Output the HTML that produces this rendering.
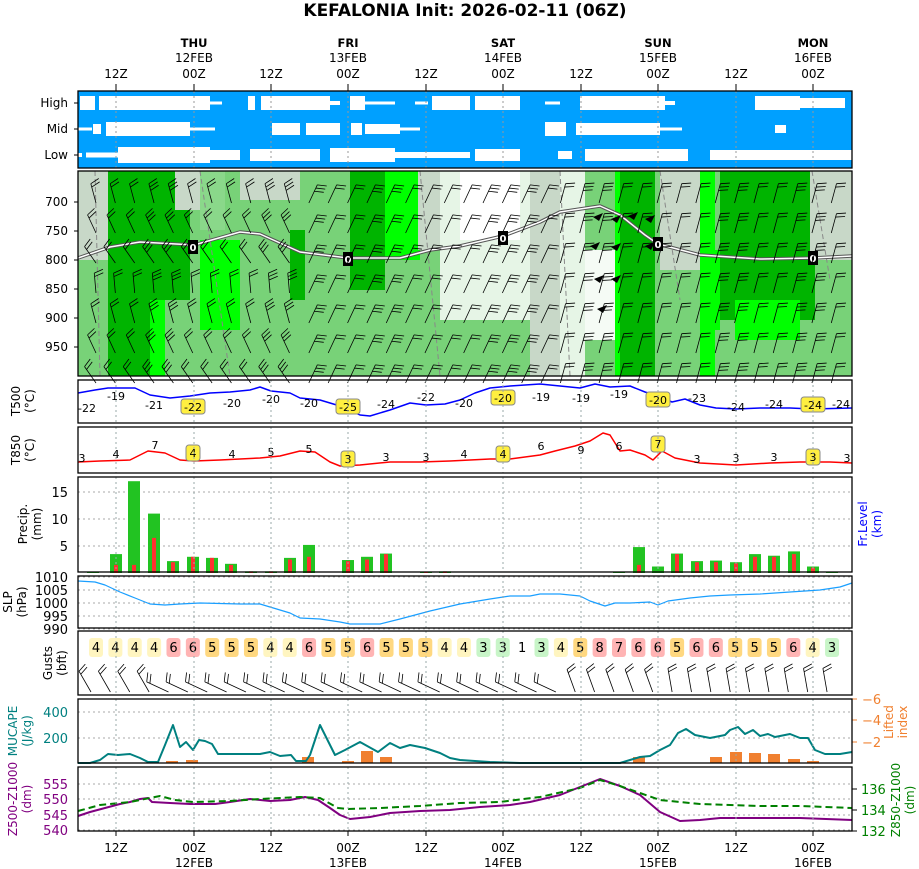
<!DOCTYPE html>
<html><head><meta charset="utf-8"><style>
html,body{margin:0;padding:0;background:#fff;}
svg{display:block;font-family:"DejaVu Sans","Liberation Sans",sans-serif;}
</style></head><body>
<svg id="s" width="919" height="869" xmlns="http://www.w3.org/2000/svg">
<text x="465" y="16" text-anchor="middle" font-size="17" font-weight="bold">KEFALONIA Init: 2026-02-11 (06Z)</text>
</svg>
<script>
const S=document.getElementById('s');const NS='http://www.w3.org/2000/svg';
function el(t,a,txt){const e=document.createElementNS(NS,t);for(const k in a)e.setAttribute(k,a[k]);if(txt!==undefined)e.textContent=txt;S.appendChild(e);return e;}
function rect(x,y,w,h,f,extra){return el('rect',Object.assign({x,y,width:w,height:h,fill:f},extra||{}));}
function line(p,c,w,d){return el('polyline',{points:p.map(a=>a.join(',')).join(' '),fill:'none',stroke:c,'stroke-width':w,'stroke-dasharray':d||'','stroke-linejoin':'round'});}
function text(x,y,t,o){return el('text',Object.assign({x,y,'font-size':11,'text-anchor':'middle'},o||{}),t);}
const X0=78,X1=852,W=X1-X0;
const ticks=[116,194,271,348,426,503,581,658,736,813];
const hrs=['12Z','00Z','12Z','00Z','12Z','00Z','12Z','00Z','12Z','00Z'];
const days=[[194,'THU','12FEB'],[348,'FRI','13FEB'],[503,'SAT','14FEB'],[658,'SUN','15FEB'],[813,'MON','16FEB']];
days.forEach(d=>{text(d[0],47,d[1],{'font-weight':'bold','font-size':11.5});text(d[0],62,d[2],{'font-size':12});});
ticks.forEach((x,i)=>{text(x,78,hrs[i],{'font-size':12});el('line',{x1:x,y1:84,x2:x,y2:91,stroke:'#000'});});
const P={cl:[91,168],cs:[171,376],t5:[380,423],t8:[427,473],pr:[477,572],slp:[576,628],gu:[631,695],ca:[699,763],z:[767,831]};
rect(X0,91,W,77,'#00a0ff');
const rows={h:103,m:129,l:155};
const cl={h:[[80,95,7],[99,210,7],[210,222,1.5],[248,255,7],[261,330,7],[330,340,2],[350,365,7],[365,395,1.5],[415,428,1.5],[432,470,7],[475,520,7],[545,560,1.5],[580,665,7],[665,675,2],[755,800,7],[800,845,5]],
m:[[78,92,1.5],[93,101,5],[106,190,7],[190,215,1.5],[272,300,6],[306,340,6],[351,362,6],[365,400,5],[400,420,1.5],[545,566,7],[576,660,6],[660,682,1.5],[775,786,4]],
l:[[78,82,2],[86,118,2.5],[118,210,8],[210,240,5],[250,320,6],[330,395,7],[395,440,3],[440,470,3],[475,520,6],[558,572,4],[585,688,6],[710,852,5]]};
for(const r in cl)cl[r].forEach(s=>rect(s[0],rows[r]-s[2],s[1]-s[0],2*s[2],'#fff'));
ticks.forEach(x=>el('line',{x1:x,y1:91,x2:x,y2:168,stroke:'#999','stroke-dasharray':'2,3'}));
[['High',103],['Mid',129],['Low',155]].forEach(a=>{text(68,a[1]+4,a[0],{'text-anchor':'end','font-size':12});el('line',{x1:74,y1:a[1],x2:78,y2:a[1],stroke:'#000'});});
rect(X0,171,W,205,'#78d278');
const G='#c8d8c8',L='#e6f5e6',D='#00b400',B='#00ff00';
const blobs=[[78,110,171,260,G],[140,165,171,376,B],[108,150,171,376,D],[150,190,171,300,D],[200,240,240,330,B],[175,200,171,210,G],[240,300,171,200,G],[290,305,230,300,D],[350,385,171,290,D],[385,420,171,260,B],[418,440,171,250,G],[440,530,171,320,L],[460,520,171,240,'#ffffff'],[530,560,171,376,G],[560,585,171,376,L],[585,615,250,340,'#f5fbf5'],[615,630,171,376,B],[620,655,171,376,D],[660,700,171,270,G],[700,715,171,376,B],[720,815,171,320,D],[715,720,250,330,B],[735,800,300,340,B],[810,852,171,260,G],[200,225,171,230,'#8ad88a']];
blobs.forEach(b=>rect(b[0],b[2],b[1]-b[0],b[3]-b[2],b[4]));
[[95,171,100,376],[200,171,230,376],[420,171,440,376],[560,171,570,376],[660,171,680,300],[812,171,830,280]].forEach(a=>el('line',{x1:a[0],y1:a[1],x2:a[2],y2:a[3],stroke:'#888','stroke-dasharray':'5,3'}));
const fl=[[78,258],[110,247],[140,242],[194,245],[240,232],[260,234],[300,252],[348,258],[400,258],[430,250],[460,246],[503,236],[540,222],[560,212],[600,206],[620,215],[645,235],[658,244],[700,255],[760,259],[813,258],[852,256]];
line(fl,'#555',3.5);line(fl,'#fff',1.5);
[[193,247],[348,259],[503,238],[658,244],[813,258]].forEach(p=>{rect(p[0]-5,p[1]-7,10,14,'#000');text(p[0],p[1]+4,'0',{fill:'#fff','font-size':10,'font-weight':'bold'});});
function barb(x,y,ang,n,len){len=len||22;const r=ang*Math.PI/180;const dx=Math.sin(r),dy=-Math.cos(r);const x2=x+dx*len,y2=y+dy*len;let d=`M${x},${y}L${x2},${y2}`;
for(let i=0;i<n;i++){const bx=x2-dx*i*3.5,by=y2-dy*i*3.5;const px=-dy,py=dx;d+=`M${bx},${by}l${(px*9+dx*3).toFixed(1)},${(py*9+dy*3).toFixed(1)}`;}
el('path',{d,stroke:'#000','stroke-width':0.8,fill:'none'});}
for(let x=96;x<850;x+=19.35){for(let y=185;y<370;y+=30){const k=Math.floor(x*7+y*3)%5;barb(x,y+18,x<300?(320+(y%40)):(x<560?20+(y%30):15),2+k%2,20);}}
[[593,217],[611,219],[628,216],[645,219],[590,246],[611,247],[645,246],[594,279],[611,279],[597,309]].forEach(p=>el('path',{d:`M${p[0]},${p[1]}l10,-4l-4,8z`,fill:'#000'}));
[[700,202],[750,231],[800,260],[850,289],[900,318],[950,347]].forEach(a=>{text(68,a[1]+4,a[0],{'text-anchor':'end','font-size':12});el('line',{x1:74,y1:a[1],x2:78,y2:a[1],stroke:'#000'});});
line([[78,393],[95,390],[108,388],[135,388],[150,395],[170,398],[190,396],[210,393],[230,392],[250,390],[260,387],[271,391],[290,393],[300,398],[320,400],[340,406],[360,415],[370,416],[390,410],[410,403],[426,405],[445,404],[460,400],[475,393],[490,388],[510,386],[540,384],[560,386],[580,388],[595,384],[610,387],[630,386],[645,392],[658,396],[672,402],[685,399],[700,405],[716,408],[736,409],[760,408],[790,408],[812,409],[852,408]],'#0000ff',1.5);
const t5=[[87,408,'-22'],[116,396,'-19'],[154,405,'-21'],[193,407,'-22',1],[232,403,'-20'],[271,399,'-20'],[309,403,'-20'],[348,407,'-25',1],[386,404,'-24'],[426,397,'-22'],[464,403,'-20'],[503,398,'-20',1],[541,397,'-19'],[581,398,'-19'],[619,394,'-19'],[658,400,'-20',1],[697,398,'-23'],[736,407,'-24'],[774,404,'-24'],[813,405,'-24',1],[841,404,'-24']];
function lab(a){if(a[3])rect(a[0]-12,a[1]-8,24,15,'#ffef40',{rx:3,stroke:'#888'});text(a[0],a[1]+4,a[2]);}
t5.forEach(lab);
line([[78,462],[100,461],[130,460],[148,451],[165,453],[180,460],[194,461],[220,460],[260,458],[280,456],[300,451],[315,452],[330,462],[340,466],[360,465],[390,462],[420,462],[450,461],[490,459],[510,459],[540,455],[555,451],[575,446],[590,441],[603,433],[610,435],[620,451],[630,450],[645,455],[653,460],[662,451],[675,458],[700,463],[736,465],[770,463],[800,462],[830,462],[852,463]],'#ff0000',1.5);
[[82,458,'3'],[116,454,'4'],[155,445,'7'],[193,453,'4',1],[232,454,'4'],[271,452,'5'],[309,449,'5'],[348,459,'3',1],[386,457,'3'],[426,457,'3'],[464,454,'4'],[503,454,'4',1],[541,446,'6'],[581,450,'9'],[619,446,'6'],[658,444,'7',1],[697,459,'3'],[736,458,'3'],[774,457,'3'],[813,457,'3',1],[847,458,'3']].forEach(a=>{if(a[3]){rect(a[0]-7,a[1]-8,14,16,'#ffef40',{rx:3,stroke:'#888'});}text(a[0],a[1]+4,a[2]);});
[5,10,15].forEach(v=>{const y=573-v*5.4;el('line',{x1:X0,y1:y,x2:X1,y2:y,stroke:'#aaa','stroke-dasharray':'2,3'});text(68,y+5,v,{'text-anchor':'end','font-size':13});});
const pr=[[93,.2,0],[116,3.5,1.5],[134,17,1.5],[154,11,6.5],[173,2.2,2],[193,3,3],[212,2.8,2.8],[231,1.7,1.5],[251,.3,.3],[271,.3,.3],[290,2.8,2.5],[309,5.2,3],[348,2.4,2.2],[367,3,2.5],[386,3.6,3.5],[426,.1,.1],[445,.3,.3],[619,.1,0],[639,4.8,1.5],[658,1.2,0],[677,3.6,3.5],[697,2.2,2],[716,2.3,2],[736,2,1.8],[755,3.5,3],[774,3.2,3],[794,4,3.5],[813,1.2,1],[832,.1,0]];
pr.forEach(p=>{rect(p[0]-6,573-p[1]*5.4,12,p[1]*5.4,'#22c322');if(p[2])rect(p[0]-2,573-p[2]*5.4,4,p[2]*5.4,'#ff3030');});
[[1010,577],[1005,590],[1000,603],[995,616],[990,629]].forEach(a=>{el('line',{x1:X0,y1:a[1],x2:X1,y2:a[1],stroke:'#aaa','stroke-dasharray':'2,3'});text(68,a[1]+5,a[0],{'text-anchor':'end','font-size':13});});
line([[78,581],[95,582],[105,585],[120,592],[135,598],[150,604],[165,605],[180,604],[200,603],[240,604],[260,604],[270,607],[290,613],[300,618],[320,619],[340,622],[350,624],[380,624],[400,619],[430,611],[460,604],[490,599],[510,596],[530,596],[540,594],[560,594],[580,596],[590,601],[605,606],[615,603],[630,603],[650,602],[658,605],[668,601],[690,598],[710,596],[730,595],[760,594],[790,592],[820,590],[840,587],[852,583]],'#1a9fff',1.2);
const gv=[4,4,4,4,6,6,5,5,5,4,4,6,5,5,6,5,5,5,4,4,3,3,1,3,4,5,8,7,6,6,5,6,6,5,5,5,6,4,3];
const gc={3:'#c8f5c8',4:'#fff5c0',5:'#ffd880',6:'#ffb4b4',7:'#ffb4b4',8:'#ffb4b4'};
gv.forEach((v,i)=>{const x=96+i*19.37;if(gc[v])rect(x-7,638,14,19,gc[v],{rx:3});text(x,652,v,{'font-size':13});barb(x-5,692,i<4?330:(i<25?295:(i<30?340:350)),2,24);});
[[400,712],[200,738]].forEach(a=>{el('line',{x1:X0,y1:a[1],x2:X1,y2:a[1],stroke:'#aaa','stroke-dasharray':'2,3'});text(68,a[1]+5,a[0],{'text-anchor':'end','font-size':13,fill:'#008080'});});
[[172,2],[192,3],[308,6],[348,2],[367,12],[386,6],[639,6],[716,6],[736,11],[755,10],[774,9],[794,4],[813,2]].forEach(b=>rect(b[0]-6,763-b[1],12,b[1],'#f08030'));
line([[78,763],[90,763],[100,760],[108,754],[118,755],[130,754],[140,758],[148,762],[158,762],[165,745],[173,725],[180,747],[186,742],[193,750],[199,740],[205,741],[212,744],[218,754],[240,754],[260,754],[270,752],[280,756],[291,755],[296,761],[306,761],[310,755],[315,740],[320,725],[328,741],[335,755],[345,750],[360,742],[378,752],[390,743],[400,748],[410,745],[425,748],[440,753],[450,758],[460,760],[490,762],[520,763],[550,763],[620,763],[630,760],[640,757],[650,756],[660,750],[670,745],[678,733],[686,729],[695,735],[710,738],[725,735],[730,730],[738,727],[745,734],[753,730],[760,736],[768,734],[775,737],[790,734],[800,738],[808,738],[815,750],[825,754],[840,754],[852,752]],'#008080',2);
[[-6,699],[-4,720],[-2,742]].forEach(a=>{el('line',{x1:852,y1:a[1],x2:857,y2:a[1],stroke:'#f08030'});text(862,a[1]+5,'−'+(-a[0]),{'text-anchor':'start','font-size':13,fill:'#f08030'});});
[[555,784],[550,799],[545,815],[540,830]].forEach(a=>{el('line',{x1:X0,y1:a[1],x2:X1,y2:a[1],stroke:'#aaa','stroke-dasharray':'2,3'});text(68,a[1]+5,a[0],{'text-anchor':'end','font-size':13,fill:'#800080'});});
[[136,789],[134,810],[132,831]].forEach(a=>{el('line',{x1:852,y1:a[1],x2:857,y2:a[1],stroke:'#000'});text(861,a[1]+5,a[0],{'text-anchor':'start','font-size':13,fill:'#008000'});});
line([[78,816],[90,812],[105,808],[120,804],[130,802],[140,799],[148,798],[152,802],[170,803],[190,804],[215,804],[230,802],[250,799],[270,801],[290,800],[305,797],[318,800],[330,808],[340,815],[350,819],[370,817],[390,813],[420,811],[450,810],[480,807],[510,805],[530,802],[560,795],[580,787],[600,779],[620,786],[640,795],[660,812],[680,821],[700,820],[720,818],[760,818],[800,818],[852,820]],'#800080',2);
line([[78,811],[100,805],[130,802],[140,800],[160,796],[175,800],[193,802],[230,801],[260,799],[300,797],[320,798],[338,808],[348,809],[380,808],[420,806],[460,803],[500,802],[540,797],[580,788],[600,780],[620,786],[640,793],[660,800],[700,804],[760,806],[800,806],[852,808]],'#008000',2,'7,4');
['t5','t8','pr','slp','gu','ca','z'].forEach(k=>{const p=P[k];ticks.forEach(x=>el('line',{x1:x,y1:p[0],x2:x,y2:p[1],stroke:'#9aa','stroke-dasharray':'2,3'}));});
for(const k in P){const p=P[k];rect(X0,p[0],W,p[1]-p[0],'none',{stroke:'#000','stroke-width':1.3});}
ticks.forEach((x,i)=>{el('line',{x1:x,y1:831,x2:x,y2:836,stroke:'#000'});text(x,852,hrs[i],{'font-size':12});if(i%2==1)text(x,867,['12FEB','13FEB','14FEB','15FEB','16FEB'][(i-1)/2],{'font-size':12});});
function vt(x,y,lines,c,rot){const g=el('text',{transform:`translate(${x},${y}) rotate(${rot||-90})`,'font-size':12,'text-anchor':'middle',fill:c||'#000'});lines.forEach((l,i)=>{const t=document.createElementNS(NS,'tspan');t.setAttribute('x',0);t.setAttribute('dy',i?14:0);t.textContent=l;g.appendChild(t);});}
vt(20,401,['T500','(°C)']);vt(20,450,['T850','(°C)']);vt(27,524,['Precip.','(mm)']);vt(12,602,['SLP','(hPa)']);vt(52,663,['Gusts','(bft)']);
vt(17,731,['MUCAPE','(J/kg)'],'#008080');vt(17,799,['Z500-Z1000','(dm)'],'#800080');
vt(867,524,['Fr.Level','(km)'],'#0000ff');vt(893,722,['Lifted','index'],'#f08030');vt(900,800,['Z850-Z1000','(dm)'],'#008000');
</script>
</body></html>
